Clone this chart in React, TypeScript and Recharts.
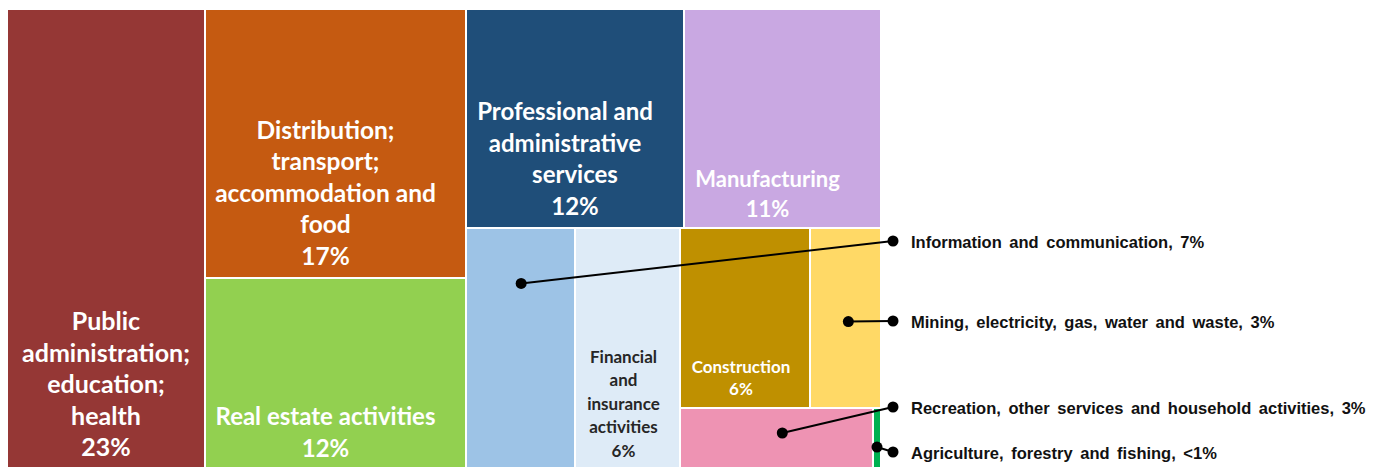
import React from 'react';
import { Treemap } from 'recharts';

// ---- data ----
const SECTORS = [
  'Public administration; education; health',
  'Distribution; transport; accommodation and food',
  'Real estate activities',
  'Professional and administrative services',
  'Manufacturing',
  'Information and communication',
  'Financial and insurance activities',
  'Construction',
  'Mining, electricity, gas, water and waste',
  'Recreation, other services and household activities',
  'Agriculture, forestry and fishing',
];
const SHARES = [22.6, 17.4, 12.3, 11.8, 10.7, 6.5, 6.3, 5.8, 3.2, 2.9, 0.12];
const SHARE_LABELS = ['23%', '17%', '12%', '12%', '11%', '7%', '6%', '6%', '3%', '3%', '<1%'];
const COLORS = [
  '#953735', '#C55A11', '#92D050', '#1F4E79', '#C9A8E2', '#9DC3E6',
  '#DEEBF7', '#BF9000', '#FFD966', '#EE93B3', '#00B050',
];
const BOX_LINES: (string[] | null)[] = [
  ['Public', 'administration;', 'education;', 'health'],
  ['Distribution;', 'transport;', 'accommodation and', 'food'],
  ['Real estate activities'],
  ['Professional and', 'administrative', 'services'],
  ['Manufacturing'],
  null,
  ['Financial', 'and', 'insurance', 'activities'],
  ['Construction'],
  null,
  null,
  null,
];
// nesting that guides the squarified layout
const GROUPING: any[] = [0, [[1, 2], [[3, 4], [5, [6, [[7, 8], [9, 10]]]]]]];

// label styles per box
type LStyle = { size: number; lh: number; color: string; dx: number | number[]; pad: number };
const BIG: LStyle = { size: 24, lh: 31.5, color: '#ffffff', dx: 0, pad: 23 };
const LABEL_STYLES: (LStyle | null)[] = [
  { ...BIG, size: 25 },
  { ...BIG, size: 24.5, dx: -10 },
  { ...BIG, dx: -10, pad: 22 },
  { ...BIG, dx: [-10, -10, 0, 0] },
  { size: 22, lh: 30, color: '#ffffff', dx: -15, pad: 20 },
  null,
  { size: 17, lh: 23.5, color: '#262626', dx: -4, pad: 19 },
  { size: 17, lh: 22, color: '#ffffff', dx: -4, pad: 20 },
  null,
  null,
  null,
];
// callouts: anchor inside box (fractions) and label row y
const CALLOUTS = [
  { idx: 5, fx: 0.506, fy: 0.23, labelY: 232 },
  { idx: 8, fx: 0.54, fy: 0.52, labelY: 312 },
  { idx: 9, fx: 0.53, fy: 0.41, labelY: 398 },
  { idx: 10, fx: 0.5, fy: 0.64, labelY: 443 },
];

const W = 874;
const H = 460;
const DOT_X = W + 12;
const TEXT_X = W + 30;

const build = (g: any): any => {
  if (Array.isArray(g)) return { name: 'group', children: g.map(build) };
  return { name: SECTORS[g], value: SHARES[g], idx: g };
};
const treeData = (GROUPING as any[]).map(build);

const registry: Record<number, { x: number; y: number; w: number; h: number }> = {};

const Node = (props: any) => {
  const { x, y, width, height, children, idx } = props;
  if ((children && children.length) || idx === undefined) return null;
  registry[idx] = { x, y, w: width, h: height };
  const lines = BOX_LINES[idx];
  const st = LABEL_STYLES[idx];
  const els: any[] = [];
  els.push(
    <rect
      key="r"
      x={x + 1}
      y={y + 1}
      width={Math.max(0, width - 2)}
      height={Math.max(0, height - 2)}
      fill={COLORS[idx]}
    />
  );
  if (lines && st) {
    const all = [...lines, SHARE_LABELS[idx]];
    const lastY = y + height - st.pad;
    all.forEach((t, i) => {
      const dx = Array.isArray(st.dx) ? st.dx[i] ?? 0 : st.dx;
      els.push(
        <text
          key={'t' + i}
          x={x + width / 2 + dx}
          y={lastY - (all.length - 1 - i) * st.lh}
          textAnchor="middle"
          dominantBaseline="central"
          fill={st.color}
          fontFamily="Lato, 'Open Sans', sans-serif"
          fontWeight={700}
          fontSize={st.size}
        >
          {t}
        </text>
      );
    });
  }
  if (idx === SECTORS.length - 1) {
    CALLOUTS.forEach((c, k) => {
      const r = registry[c.idx];
      if (!r) return;
      const ax = r.x + r.w * c.fx;
      const ay = r.y + r.h * c.fy;
      els.push(
        <g key={'c' + k}>
          <line x1={ax} y1={ay} x2={DOT_X} y2={c.labelY} stroke="#000" strokeWidth={2} />
          <circle cx={ax} cy={ay} r={5.5} fill="#000" />
          <circle cx={DOT_X} cy={c.labelY} r={5.5} fill="#000" />
          <text
            x={TEXT_X}
            y={c.labelY + 1}
            dominantBaseline="central"
            fontFamily="'Liberation Sans', Arial, sans-serif"
            fontWeight={700}
            fontSize={16.5}
            wordSpacing={3}
            fill="#111"
          >
            {SECTORS[c.idx] + ', ' + SHARE_LABELS[c.idx]}
          </text>
        </g>
      );
    });
  }
  return <g>{els}</g>;
};

export default function App() {
  return (
    <div style={{ position: 'relative', marginLeft: -1, marginTop: 1, width: W, height: H }}>
      <style>{`.recharts-surface{overflow:visible}`}</style>
      <Treemap
        width={W}
        height={H}
        data={treeData}
        dataKey="value"
        nameKey="name"
        aspectRatio={0.75}
        isAnimationActive={false}
        content={(p: any) => <Node {...p} />}
      />
    </div>
  );
}
